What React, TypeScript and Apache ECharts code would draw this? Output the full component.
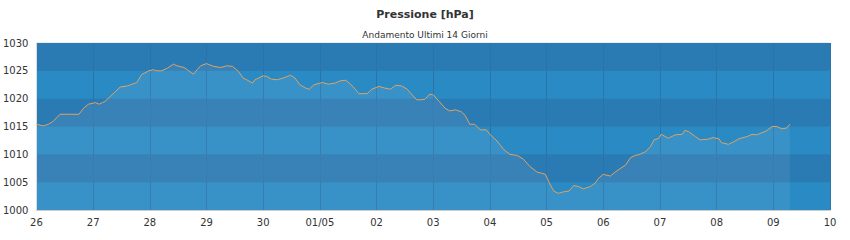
import React, { useEffect, useRef } from "react";
import * as echarts from "echarts";

const xLabels = ["26", "27", "28", "29", "30", "01/05", "02", "03", "04", "05", "06", "07", "08", "09", "10"];

const hours = [
  0, 3, 5, 7, 10, 12, 18, 20, 22, 25, 26.5, 28, 29, 32, 35.5, 38.5, 40.5, 42.5, 44.5, 47.5,
  49.5, 51, 53, 55.5, 58, 59.5, 62.5, 64.5, 66.5, 68, 69.5, 72, 75, 78, 80.5, 83, 85.5, 87.5,
  89, 91.5, 92.5, 94, 96, 97.5, 99.5, 102, 104.5, 107.5, 109.5, 111.5, 114, 115.5, 117.5, 121,
  123.5, 126.5, 128.5, 131, 133, 135, 136.5, 140, 142, 145, 147.5, 150, 152, 154.5, 157, 159,
  161, 162.5, 164.5, 166.5, 168, 170.5, 173, 175, 177.5, 180, 181.5, 183.5, 185.5, 188, 190.5,
  192, 195, 198, 200.5, 203.5, 206, 209, 212, 214, 215.5, 217, 219, 221, 223.5, 225.5, 227.5,
  229.5, 231.5, 234.5, 236.5, 238, 240, 243, 245, 247, 249.5, 251.5, 253.5, 255.5, 258, 260,
  261.5, 263.5, 264.5, 267.5, 270.5, 273.5, 274.5, 276, 279, 281, 284, 286.5, 289, 290, 293,
  295, 297.5, 301, 303, 305, 309, 311.5, 313.5, 315.5, 317.5, 319,
];

const pressure = [
  1015.4, 1015.1, 1015.4, 1015.9, 1017.2, 1017.2, 1017.2, 1018.3, 1019.0, 1019.3, 1019.0, 1019.3, 1019.5, 1020.7, 1022.1, 1022.3, 1022.6, 1022.9, 1024.3, 1025.0,
  1025.2, 1025.0, 1025.0, 1025.5, 1026.2, 1025.9, 1025.6, 1025.0, 1024.4, 1025.2, 1025.9, 1026.3, 1025.8, 1025.6, 1025.9, 1025.8, 1024.9, 1023.7,
  1023.4, 1022.8, 1023.4, 1023.7, 1024.1, 1024.0, 1023.5, 1023.4, 1023.7, 1024.2, 1023.7, 1022.5, 1021.9, 1021.7, 1022.5, 1022.9,
  1022.6, 1022.8, 1023.2, 1023.3, 1022.6, 1021.7, 1020.9, 1020.9, 1021.7, 1022.2, 1021.9, 1021.7, 1022.4, 1022.3, 1021.7, 1020.7,
  1019.8, 1019.8, 1019.9, 1020.8, 1020.7, 1019.5, 1018.3, 1017.8, 1018.0, 1017.6, 1017.0, 1015.4, 1015.4, 1014.4, 1014.4,
  1013.6, 1012.4, 1010.8, 1010.0, 1009.8, 1009.2, 1007.8, 1006.8, 1006.6, 1006.4, 1005.0, 1003.4, 1003.0, 1003.3, 1003.4, 1004.4,
  1004.2, 1003.8, 1004.2, 1004.8, 1005.7, 1006.4, 1006.1, 1006.8, 1007.4, 1008.1, 1009.4, 1009.8, 1010.0, 1010.5, 1011.4,
  1012.6, 1012.9, 1013.6, 1012.9, 1013.5, 1013.6, 1014.3, 1014.1, 1013.2, 1012.6, 1012.7, 1013.0, 1012.8, 1012.1, 1011.8,
  1012.2, 1012.8, 1013.2, 1013.6, 1013.5, 1014.2, 1015.0, 1015.0, 1014.6, 1014.7, 1015.4,
];

const FONT = "DejaVu Sans";

export default function App() {
  const ref = useRef<HTMLDivElement>(null);
  useEffect(() => {
    if (!ref.current) return;
    const chart = echarts.init(ref.current, null, { renderer: "svg" });
    const data = hours.map((h, i) => [h, pressure[i]]);
    chart.setOption({
      animation: false,
      backgroundColor: "#ffffff",
      title: [
        {
          text: "Pressione [hPa]",
          left: "center",
          top: 4,
          textStyle: { fontFamily: FONT, fontSize: 11, fontWeight: "bold", color: "#333" },
        },
        {
          text: "Andamento Ultimi 14 Giorni",
          left: "center",
          top: 25,
          textStyle: { fontFamily: FONT, fontSize: 9, fontWeight: "normal", color: "#333" },
        },
      ],
      grid: {
        left: 36,
        right: 20,
        top: 43,
        bottom: 30,
        show: true,
        backgroundColor: "#2a82bb",
        borderColor: "#dddddd",
        borderWidth: 1,
      },
      xAxis: {
        type: "value",
        min: 0,
        max: 336,
        interval: 24,
        axisLine: { show: true, lineStyle: { color: "#cccccc" } },
        axisTick: { show: false },
        axisLabel: {
          fontFamily: FONT,
          fontSize: 10,
          color: "#333",
          margin: 7,
          formatter: (v: number) => xLabels[Math.round(v / 24)] ?? "",
        },
        splitLine: { show: true, lineStyle: { color: "#2a74aa", width: 1 } },
      },
      yAxis: {
        type: "value",
        min: 1000,
        max: 1030,
        interval: 5,
        axisLine: { show: true, lineStyle: { color: "#dddddd" } },
        axisTick: { show: false },
        axisLabel: {
          fontFamily: FONT,
          fontSize: 10,
          color: "#333",
          margin: 8,
          formatter: (v: number) => String(v),
        },
        splitLine: { show: false },
        splitArea: { show: true, areaStyle: { color: ["#2a8ac3", "#2a7ab3"] } },
      },
      series: [
        {
          type: "line",
          data,
          showSymbol: false,
          smooth: false,
          lineStyle: { color: "#e0a262", width: 1 },
          areaStyle: { color: "rgba(220,235,245,0.12)", origin: "start" },
        },
      ],
    });
    return () => chart.dispose();
  }, []);
  return (
    <div
      ref={ref}
      style={{ position: "absolute", left: 0, top: 0, width: 850, height: 240 }}
    />
  );
}
